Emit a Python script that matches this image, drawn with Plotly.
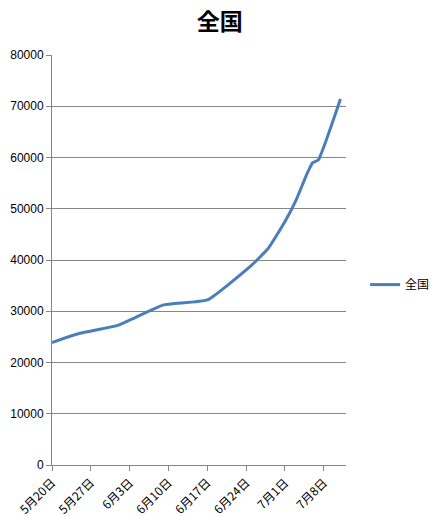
import plotly.graph_objects as go

dates = ["2020-05-20", "2020-05-25", "2020-06-01", "2020-06-09", "2020-06-17",
         "2020-06-25", "2020-06-28", "2020-07-01", "2020-07-03", "2020-07-05",
         "2020-07-06", "2020-07-07", "2020-07-11"]
values = [23900, 25700, 27300, 31200, 32200,
          39000, 42300, 47500, 51700, 56900,
          59000, 59500, 71400]
tick_dates = ["2020-05-20", "2020-05-27", "2020-06-03", "2020-06-10",
              "2020-06-17", "2020-06-24", "2020-07-01", "2020-07-08"]
tick_labels = ["5月20日", "5月27日", "6月3日", "6月10日",
               "6月17日", "6月24日", "7月1日", "7月8日"]
series_name = "全国"

fig = go.Figure()
fig.add_trace(go.Scatter(
    x=dates, y=values, mode="lines", name=series_name,
    line=dict(color="#4a7ebb", width=3, shape="spline", smoothing=0.4),
))

font_family = "Liberation Sans, Arial, Noto Sans CJK JP"
fig.update_layout(
    width=435, height=516,
    margin=dict(l=52, r=89, t=55, b=51, autoexpand=False),
    paper_bgcolor="white", plot_bgcolor="white",
    font=dict(family=font_family, size=11, color="black"),
    title=dict(text="<b>全国</b>", x=0.505, xanchor="center", xref="container",
               y=0.957, yanchor="middle", yref="container",
               font=dict(family="Noto Sans CJK JP", size=23, color="black")),
    showlegend=True,
    legend=dict(x=1.065, y=0.44, xanchor="left", yanchor="middle",
                font=dict(family="Noto Sans CJK JP", size=12), bgcolor="rgba(0,0,0,0)"),
    xaxis=dict(
        type="date", range=["2020-05-20", "2020-07-12"], automargin=False,
        tickvals=tick_dates, ticktext=tick_labels, tickangle=-45,
        showgrid=False, showline=True, linecolor="#868686", linewidth=1,
        ticks="outside", ticklen=5, tickcolor="#868686",
        tickfont=dict(family="Noto Sans CJK JP", size=12),
        zeroline=False,
    ),
    yaxis=dict(
        range=[0, 80000], tick0=0, dtick=10000, tickformat="d", automargin=False,
        showgrid=True, gridcolor="#868686", gridwidth=1,
        showline=True, linecolor="#868686", linewidth=1,
        ticks="outside", ticklen=5, tickcolor="#868686",
        tickfont=dict(size=12),
        zeroline=False,
    ),
)

fig.write_html("out.html", config={"displayModeBar": False},
               post_script="document.body.style.margin='0';")
